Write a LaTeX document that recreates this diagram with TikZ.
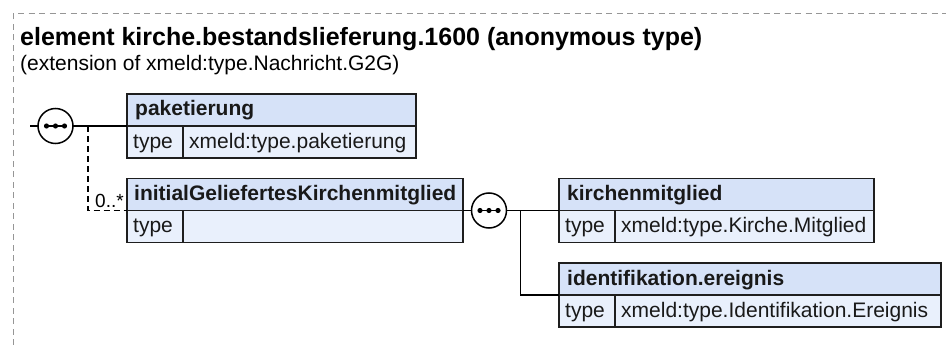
\documentclass[tikz,border=0pt]{standalone}
\usepackage{fontspec}
\setmainfont{Liberation Sans}
\usetikzlibrary{calc}
\definecolor{hdrblue}{RGB}{214,226,248}
\definecolor{rowblue}{RGB}{233,240,252}
\definecolor{framegray}{RGB}{150,150,150}
\definecolor{boxline}{RGB}{30,30,30}
\tikzset{
  elbox/.style={rectangle, draw=boxline, line width=1.6pt, inner sep=0pt, outer sep=0pt,
    minimum height=64pt,
    path picture={
      \fill[hdrblue] (path picture bounding box.north west) rectangle (path picture bounding box.east);
      \fill[rowblue] (path picture bounding box.west) rectangle (path picture bounding box.south east);
    }},
  sepline/.style={draw=boxline, line width=1.6pt},
  hdrtxt/.style={anchor=base west, inner sep=0pt, font=\fontsize{21}{25}\selectfont\bfseries, text=black!90},
  celltxt/.style={anchor=base west, inner sep=0pt, font=\fontsize{21}{25}\selectfont, text=black!90},
  titletxt/.style={anchor=base west, inner sep=0pt, font=\fontsize{25}{30}\selectfont\bfseries},
  subtxt/.style={anchor=base west, inner sep=0pt, font=\fontsize{21}{25}\selectfont},
  cardtxt/.style={anchor=base west, inner sep=0pt, font=\fontsize{19}{22}\selectfont},
  comp/.style={circle, draw=black, line width=1.5pt, fill=white, minimum size=35pt, inner sep=0pt, outer sep=0pt},
  conn/.style={draw=black, line width=1.5pt},
  optconn/.style={draw=black, line width=1.5pt, dash pattern=on 6pt off 4pt},
  frameline/.style={draw=framegray, line width=1pt, dash pattern=on 6pt off 4.5pt},
}
\newcommand{\compdots}[1]{%
  \draw[line width=1.5pt] ($(#1.center)+(-9,0)$) -- ($(#1.center)+(9,0)$);
  \foreach \dx in {-9,0,9} \fill ($(#1.center)+(\dx,0)$) circle (2.6pt);
}
\begin{document}
\begin{tikzpicture}[x=1pt,y=-1pt]
\useasboundingbox (0,0) rectangle (946,345);
\fill[white] (0,0) rectangle (946,345);
% frame
\draw[frameline] (13,345) -- (13,14) -- (946,14);
% titles
\node[titletxt] (title) at (20,46) {element kirche.bestandslieferung.1600 (anonymous type)};
\node[subtxt] (subtitle) at (20,71) {(extension of xmeld:type.Nachricht.G2G)};

% compositors
\node[comp] (c1) at (55.5,126) {};
\node[comp] (c2) at (489,210.5) {};
\compdots{c1}
\compdots{c2}

% element boxes
\node[elbox, minimum width=289pt, anchor=north west] (pak) at (127,94) {};
\node[elbox, minimum width=336pt, anchor=north west] (igk) at (127,178.5) {};
\node[elbox, minimum width=315pt, anchor=north west] (kmg) at (559,178.5) {};
\node[elbox, minimum width=382pt, anchor=north west] (ide) at (559,263) {};

\foreach \b in {pak,igk,kmg,ide}{
  \draw[sepline] (\b.west) -- (\b.east);
  \draw[sepline] ($(\b.south west)+(56,0)$) -- ($(\b.west)+(56,0)$);
}

% texts in boxes
\node[hdrtxt] (pakH) at ($(pak.north west)+(8,22)$) {paketierung};
\node[celltxt] (pakK) at ($(pak.north west)+(6,54)$) {type};
\node[celltxt] (pakV) at ($(pak.north west)+(62,54)$) {xmeld:type.paketierung};

\node[hdrtxt] (igkH) at ($(igk.north west)+(7,22)$) {initialGeliefertesKirchenmitglied};
\node[celltxt] (igkK) at ($(igk.north west)+(6,54)$) {type};

\node[hdrtxt] (kmgH) at ($(kmg.north west)+(8,22)$) {kirchenmitglied};
\node[celltxt] (kmgK) at ($(kmg.north west)+(6,54)$) {type};
\node[celltxt] (kmgV) at ($(kmg.north west)+(62,54)$) {xmeld:type.Kirche.Mitglied};

\node[hdrtxt] (ideH) at ($(ide.north west)+(8,22)$) {identifikation.ereignis};
\node[celltxt] (ideK) at ($(ide.north west)+(6,54)$) {type};
\node[celltxt] (ideV) at ($(ide.north west)+(62,54)$) {xmeld:type.Identifikation.Ereignis};

% connectors
\coordinate (in1) at (30,126);
\coordinate (br1) at (88,126);
\coordinate (br2) at (520.5,210.5);
\draw[conn] (in1) -- (c1.west);
\draw[conn] (c1.east) -- (pak.west);
\draw[optconn] (br1) |- (igk.west);
\node[cardtxt] (card) at (95,207) {0..*};
\draw[conn] (igk.east) -- (c2.west);
\draw[conn] (c2.east) -- (kmg.west);
\draw[conn] (br2) |- (ide.west);
\end{tikzpicture}
\end{document}
